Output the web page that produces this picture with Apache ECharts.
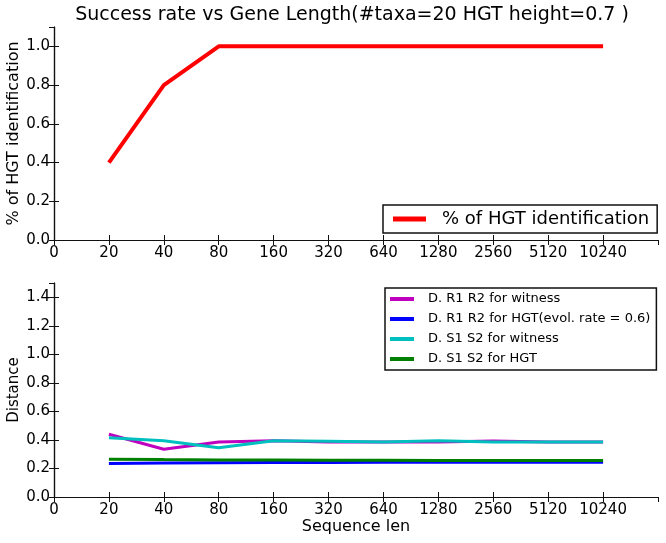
<!DOCTYPE html>
<html><head><meta charset="utf-8">
<script src="https://cdn.jsdelivr.net/npm/echarts@6/dist/echarts.min.js"></script>
<style>html,body{margin:0;padding:0;background:#fff}#c{width:666px;height:543px}</style>
</head><body><div id="c"></div>
<script>
const tickLabels = ["0","20","40","80","160","320","640","1280","2560","5120","10240",""];
const categories = ["20","40","80","160","320","640","1280","2560","5120","10240"];
const hgtIdent = [0.4,0.8,1.0,1.0,1.0,1.0,1.0,1.0,1.0,1.0];
const r1r2Witness = [0.44,0.335,0.385,0.395,0.385,0.385,0.385,0.392,0.385,0.385];
const r1r2HGT = [0.235,0.238,0.24,0.242,0.242,0.243,0.243,0.244,0.244,0.244];
const s1s2Witness = [0.415,0.395,0.345,0.395,0.39,0.385,0.395,0.385,0.385,0.385];
const s1s2HGT = [0.265,0.262,0.26,0.26,0.258,0.258,0.256,0.256,0.255,0.255];

const FONT = "DejaVu Sans";
const pts = vals => categories.map((c,i)=>[tickLabels.indexOf(c), vals[i]]);
const axLine = {show:true, lineStyle:{color:'#111', width:1.2}};
const tick = {show:true, inside:true, length:5, lineStyle:{color:'#111'}};
function xAx(grid, name){
  return [{
    type:'value', gridIndex:grid, min:0, max:11, interval:1, position:'bottom',
    axisLine:axLine, axisTick:tick, splitLine:{show:false},
    axisLabel:{show:true, formatter:v=>tickLabels[v]||'', fontFamily:FONT, fontSize:15, color:'#000', margin:6, showMaxLabel:false},
    name:name||'', nameLocation:'middle', nameGap:22, nameMoveOverlap:false, nameTextStyle:{fontFamily:FONT, fontSize:16, color:'#000'}
  },{
    type:'value', gridIndex:grid, min:0, max:11, interval:1, position:'top',
    axisLine:axLine, axisTick:tick, axisLabel:{show:false}, splitLine:{show:false}
  }];
}
function yAx(grid, max, name, nsize){
  return [{
    type:'value', gridIndex:grid, min:0, max:max, interval:0.2, position:'left',
    axisLine:axLine, axisTick:tick, splitLine:{show:false},
    axisLabel:{formatter:v=>(Math.abs(v/0.2-Math.round(v/0.2))<1e-6)?v.toFixed(1):'', fontFamily:FONT, fontSize:15, color:'#000', margin:4, showMaxLabel:false},
    name:name, nameLocation:'middle', nameGap:32, nameMoveOverlap:false, nameTextStyle:{fontFamily:FONT, fontSize:nsize, color:'#000'}
  },{
    type:'value', gridIndex:grid, min:0, max:max, interval:0.2, position:'right',
    axisLine:axLine, axisTick:tick, axisLabel:{show:false}, splitLine:{show:false}
  }];
}
const chart = echarts.init(document.getElementById('c'), null, {renderer:'canvas'});
chart.setOption({
  animation:false,
  backgroundColor:'#fff',
  title:{text:'Success rate vs Gene Length(#taxa=20 HGT height=0.7 )', left:347, top:1, textAlign:'center',
    textStyle:{fontFamily:FONT, fontSize:19, fontWeight:'normal', color:'#000'}},
  grid:[{left:54, right:8, top:27, height:213, outerBoundsMode:'none', containLabel:false},
        {left:54, right:8, top:283, height:214, outerBoundsMode:'none', containLabel:false}],
  xAxis:[...xAx(0), ...xAx(1, 'Sequence len')],
  yAxis:[...yAx(0, 1.1, '% of HGT identification', 16), ...yAx(1, 1.5, 'Distance', 15)],
  legend:[{
    data:[{name:'% of HGT identification', icon:'rect'}],
    left:383, top:205, itemWidth:33, itemHeight:5,
    borderColor:'#111', borderWidth:1.5, padding:[5,8,5,10], borderRadius:0,
    textStyle:{fontFamily:FONT, fontSize:18, color:'#000', padding:[0,0,0,11]}
  },{
    data:[{name:'D. R1 R2 for witness', icon:'rect'},{name:'D. R1 R2 for HGT(evol. rate = 0.6)', icon:'rect'},
          {name:'D. S1 S2 for witness', icon:'rect'},{name:'D. S1 S2 for HGT', icon:'rect'}],
    orient:'vertical', left:385, top:288, itemWidth:24, itemHeight:4, itemGap:6,
    borderColor:'#111', borderWidth:1.5, padding:[4,6,4,5], borderRadius:0,
    textStyle:{fontFamily:FONT, fontSize:13, color:'#000', lineHeight:14, padding:[0,0,0,9]}
  }],
  series:[
    {name:'% of HGT identification', type:'line', xAxisIndex:0, yAxisIndex:0, data:pts(hgtIdent), symbol:'none', color:'#ff0000', lineStyle:{width:4}},
    {name:'D. R1 R2 for witness', type:'line', xAxisIndex:2, yAxisIndex:2, data:pts(r1r2Witness), symbol:'none', color:'#bf00bf', lineStyle:{width:3}},
    {name:'D. R1 R2 for HGT(evol. rate = 0.6)', type:'line', xAxisIndex:2, yAxisIndex:2, data:pts(r1r2HGT), symbol:'none', color:'#0000ff', lineStyle:{width:3}},
    {name:'D. S1 S2 for witness', type:'line', xAxisIndex:2, yAxisIndex:2, data:pts(s1s2Witness), symbol:'none', color:'#00bfbf', lineStyle:{width:3}},
    {name:'D. S1 S2 for HGT', type:'line', xAxisIndex:2, yAxisIndex:2, data:pts(s1s2HGT), symbol:'none', color:'#008000', lineStyle:{width:3}}
  ]
});
</script></body></html>
